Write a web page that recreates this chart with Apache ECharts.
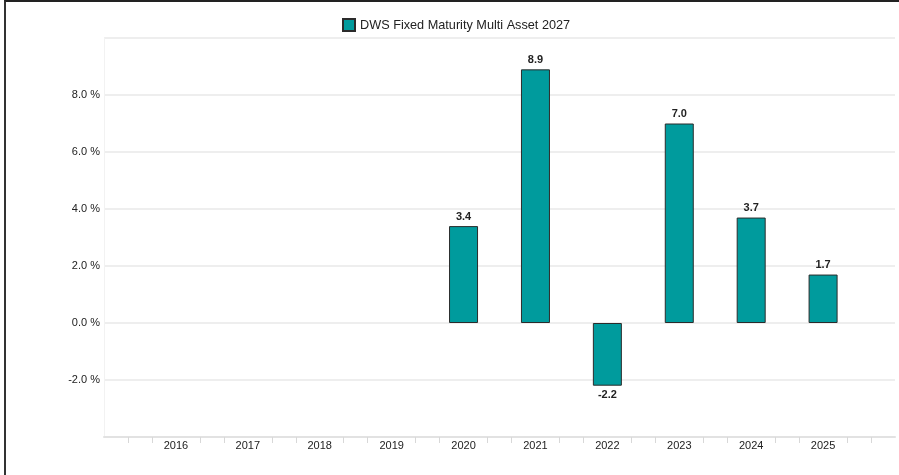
<!DOCTYPE html>
<html>
<head>
<meta charset="utf-8">
<script src="https://cdn.jsdelivr.net/npm/echarts@6/dist/echarts.min.js"></script>
<style>
html,body{margin:0;padding:0;background:#fff;}
#chart{position:absolute;left:0;top:0;width:899px;height:475px;}
#frame{position:absolute;left:4px;top:0;width:895px;height:475px;border-top:2px solid #222;border-left:2px solid #333;box-sizing:border-box;pointer-events:none;}
</style>
</head>
<body>
<div id="chart"></div>
<div id="frame"></div>
<script>
const seriesName = 'DWS Fixed Maturity Multi Asset 2027';
const years = [2016, 2017, 2018, 2019, 2020, 2021, 2022, 2023, 2024, 2025];
const values = [null, null, null, null, 3.4, 8.9, -2.2, 7.0, 3.7, 1.7];
const yTicks = [-4, -2, 0, 2, 4, 6, 8, 10];

const data = years.map((y, i) => [y, values[i]]).filter(d => d[1] !== null);

const chart = echarts.init(document.getElementById('chart'));
chart.setOption({
  animation: false,
  backgroundColor: '#fff',
  textStyle: { fontFamily: 'Liberation Sans, Arial, sans-serif' },
  legend: {
    left: 337, top: 13,
    itemWidth: 12, itemHeight: 12, itemGap: 6,
    textStyle: { fontSize: 12.7, color: '#222', fontFamily: 'Liberation Sans, Arial, sans-serif' },
    data: [{ name: seriesName, icon: 'rect' }]
  },
  grid: { left: 104, right: 4, top: 38, bottom: 38, containLabel: false },
  xAxis: {
    type: 'value',
    min: years[0] - 1,
    max: years[years.length - 1] + 1,
    interval: 1,
    splitLine: { show: false },
    axisLine: { show: true, onZero: false, lineStyle: { color: '#e2e2e2', width: 2 } },
    axisTick: { show: false },
    minorTick: { show: true, splitNumber: 3, length: 6, lineStyle: { color: '#d8d8d8', width: 1 } },
    minorSplitLine: { show: false },
    axisLabel: {
      showMinLabel: false, showMaxLabel: false,
      margin: 3, fontSize: 11, color: '#222',
      formatter: v => String(Math.round(v))
    }
  },
  yAxis: {
    type: 'value',
    min: yTicks[0], max: yTicks[yTicks.length - 1], interval: 2,
    axisLine: { show: true, lineStyle: { color: '#f2f2f2', width: 1 } },
    axisTick: { show: false },
    splitLine: { lineStyle: { color: '#e8e8e8', width: 1.5 } },
    axisLabel: {
      showMinLabel: false, showMaxLabel: false,
      margin: 4, fontSize: 11, color: '#222',
      formatter: v => v.toFixed(1) + ' %'
    }
  },
  series: [{
    name: seriesName,
    type: 'bar',
    barWidth: 29,
    data: data,
    itemStyle: { color: '#009b9d', borderColor: '#2b2b2b', borderWidth: 1 },
    label: {
      show: true,
      position: 'outside',
      distance: 4,
      fontSize: 11, fontWeight: 'bold', color: '#222',
      formatter: p => p.value[1].toFixed(1)
    }
  }]
});
</script>
</body>
</html>
